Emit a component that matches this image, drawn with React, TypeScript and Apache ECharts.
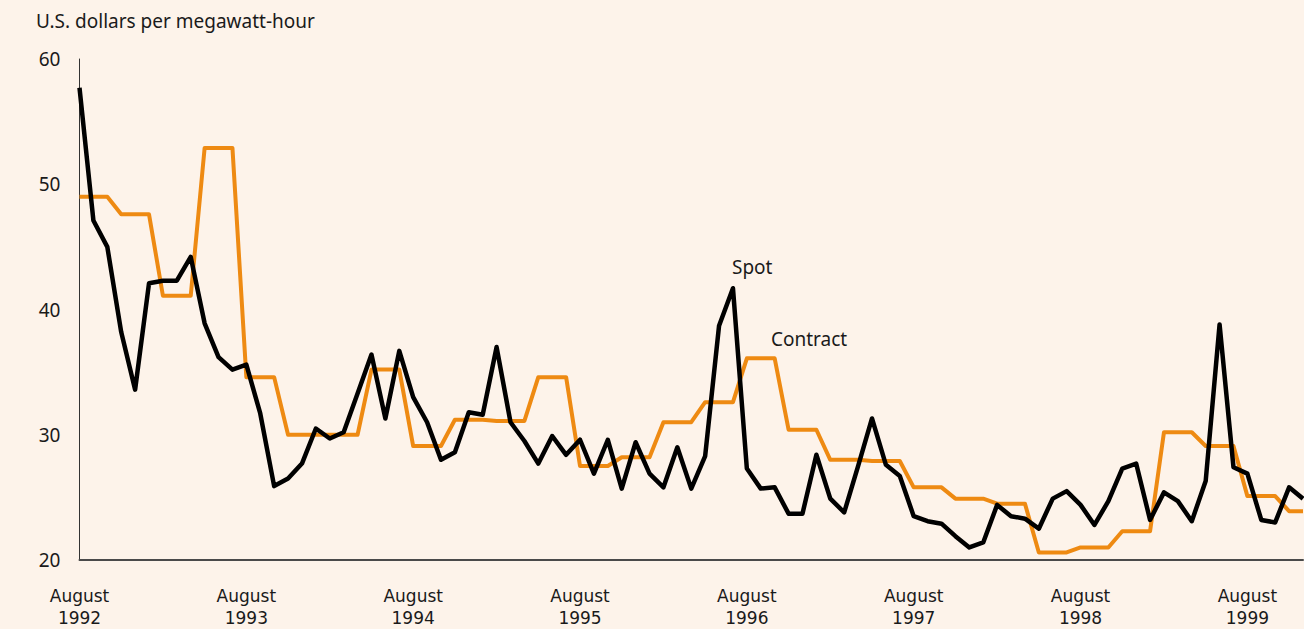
import React, { useEffect, useRef } from "react";
import * as echarts from "echarts";

const monthNames = ["Jan", "Feb", "Mar", "Apr", "May", "Jun", "Jul", "Aug", "Sep", "Oct", "Nov", "Dec"];
// Monthly categories, August 1992 to December 1999
const categories: string[] = [];
for (let y = 1992; y <= 1999; y++) {
  for (let m = 0; m < 12; m++) {
    if (y === 1992 && m < 7) continue;
    categories.push(monthNames[m] + " " + y);
  }
}

const xTickLabels: Record<string, string> = {
  "Aug 1992": "August\n1992",
  "Aug 1993": "August\n1993",
  "Aug 1994": "August\n1994",
  "Aug 1995": "August\n1995",
  "Aug 1996": "August\n1996",
  "Aug 1997": "August\n1997",
  "Aug 1998": "August\n1998",
  "Aug 1999": "August\n1999",
};

const spot = [
  57.7, 47.1, 45.0, 38.2, 33.6, 42.1, 42.3, 42.3, 44.2, 38.9, 36.2, 35.2,
  35.6, 31.7, 25.9, 26.5, 27.7, 30.5, 29.7, 30.2, 33.3, 36.4, 31.3, 36.7,
  33.0, 31.0, 28.0, 28.6, 31.8, 31.6, 37.0, 31.0, 29.5, 27.7, 29.9, 28.4,
  29.6, 26.9, 29.6, 25.7, 29.4, 26.9, 25.8, 29.0, 25.7, 28.3, 38.7, 41.7,
  27.3, 25.7, 25.8, 23.7, 23.7, 28.4, 24.9, 23.8, 27.5, 31.3, 27.6, 26.7,
  23.5, 23.1, 22.9, 21.9, 21.0, 21.4, 24.4, 23.5, 23.3, 22.5, 24.9, 25.5,
  24.4, 22.8, 24.7, 27.3, 27.7, 23.2, 25.4, 24.7, 23.1, 26.3, 38.8, 27.4,
  26.9, 23.2, 23.0, 25.8, 24.9,
];

const contract = [
  49.0, 49.0, 49.0, 47.6, 47.6, 47.6, 41.1, 41.1, 41.1, 52.9, 52.9, 52.9,
  34.6, 34.6, 34.6, 30.0, 30.0, 30.0, 30.0, 30.0, 30.0, 35.2, 35.2, 35.2,
  29.1, 29.1, 29.1, 31.2, 31.2, 31.2, 31.1, 31.1, 31.1, 34.6, 34.6, 34.6,
  27.5, 27.5, 27.5, 28.2, 28.2, 28.2, 31.0, 31.0, 31.0, 32.6, 32.6, 32.6,
  36.1, 36.1, 36.1, 30.4, 30.4, 30.4, 28.0, 28.0, 28.0, 27.9, 27.9, 27.9,
  25.8, 25.8, 25.8, 24.9, 24.9, 24.9, 24.5, 24.5, 24.5, 20.6, 20.6, 20.6,
  21.0, 21.0, 21.0, 22.3, 22.3, 22.3, 30.2, 30.2, 30.2, 29.1, 29.1, 29.1,
  25.1, 25.1, 25.1, 23.9, 23.9,
];

const yMin = 20;
const yMax = 60;
const yInterval = 10;

const BG = "#fdf3ea";
const ORANGE = "#ee8a12";
const FONT = "Noto Sans";
const FS = 19;

export default function App() {
  const ref = useRef<HTMLDivElement>(null);

  useEffect(() => {
    document.body.style.margin = "0";
    document.body.style.background = BG;
    const chart = echarts.init(ref.current!, null, { renderer: "svg" });
    chart.setOption({
      animation: false,
      backgroundColor: BG,
      textStyle: { fontFamily: FONT },
      title: {
        text: "U.S. dollars per megawatt-hour",
        left: 31,
        top: 6,
        textStyle: { fontFamily: FONT, fontSize: FS, fontWeight: "normal", color: "#1a1a1a" },
      },
      grid: { left: 79.5, right: 1, top: 59, bottom: 69, containLabel: false },
      xAxis: {
        type: "category",
        data: categories,
        boundaryGap: false,
        axisLine: { show: true, lineStyle: { color: "#4a4a4a", width: 2 } },
        axisTick: { show: false },
        splitLine: { show: false },
        axisLabel: {
          interval: 11,
          margin: 25,
          fontSize: 17,
          lineHeight: 22,
          color: "#1a1a1a",
          fontFamily: "DejaVu Sans",
          formatter: (v: string) => xTickLabels[v] || "",
        },
      },
      yAxis: {
        type: "value",
        min: yMin,
        max: yMax,
        interval: yInterval,
        axisLine: { show: true, lineStyle: { color: "#333", width: 1 } },
        axisTick: { show: false },
        splitLine: { show: false },
        axisLabel: { fontSize: FS, color: "#1a1a1a", margin: 19, fontFamily: FONT, padding: [0, 0, 4, 0] },
      },
      series: [
        {
          name: "Contract",
          type: "line",
          data: contract,
          symbol: "none",
          lineStyle: { color: ORANGE, width: 4, join: "round" },
          z: 2,
        },
        {
          name: "Spot",
          type: "line",
          data: spot,
          symbol: "none",
          lineStyle: { color: "#000", width: 4.5, join: "round" },
          z: 3,
        },
      ],
      graphic: [
        {
          type: "text",
          left: 732,
          top: 257,
          style: { text: "Spot", fontSize: FS, fill: "#1a1a1a", fontFamily: FONT },
        },
        {
          type: "text",
          left: 771,
          top: 329,
          style: { text: "Contract", fontSize: FS, fill: "#1a1a1a", fontFamily: FONT },
        },
      ],
    });
    return () => chart.dispose();
  }, []);

  return <div ref={ref} style={{ width: 1304, height: 629 }} />;
}
